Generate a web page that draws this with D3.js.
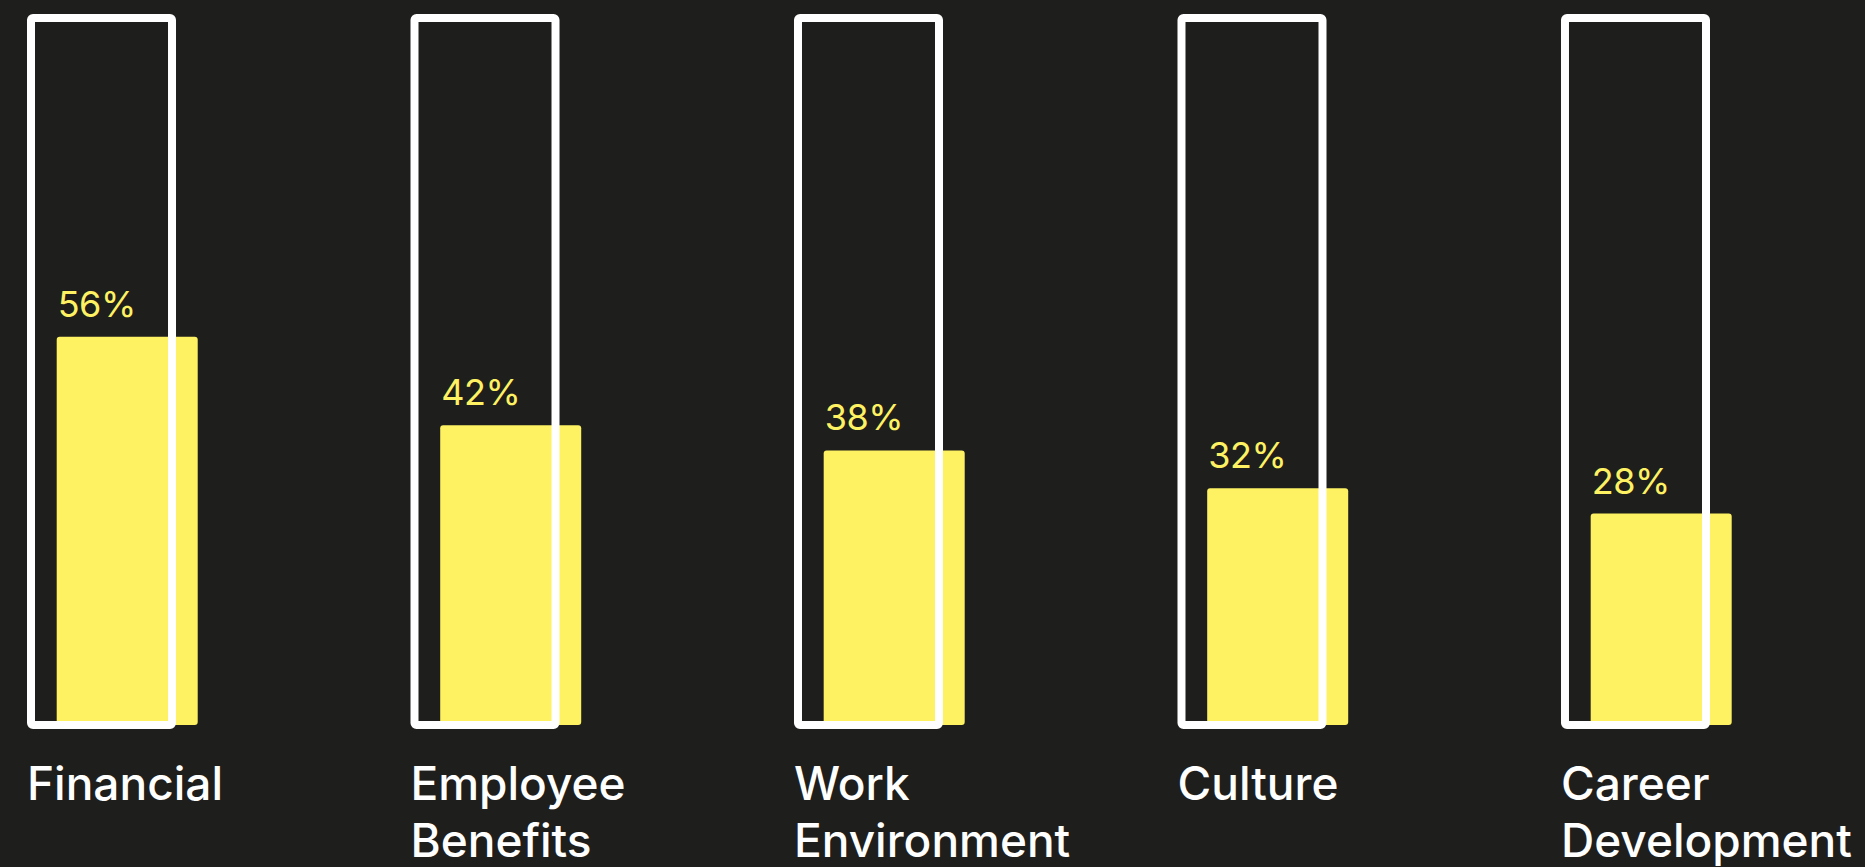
<!DOCTYPE html>
<html>
<head>
<meta charset="utf-8">
<script src="https://cdn.jsdelivr.net/npm/d3@7"></script>
<style>
  html, body { margin: 0; padding: 0; background: #1e1e1c; }
  svg { display: block; }
</style>
</head>
<body>
<svg id="chart" width="1865" height="867"></svg>
<script>
// Share of respondents naming each factor
const categories = ["Financial", "Employee Benefits", "Work Environment", "Culture", "Career Development"];
const labelLines = [["Financial"], ["Employee", "Benefits"], ["Work", "Environment"], ["Culture"], ["Career", "Development"]];
const values = [56, 42, 38, 32, 28];

const W = 1865, H = 867;
const baseline = 725;      // bottom edge of the bars
const frameTop = 18;       // top edge of the outline frames
const barShift = 25.7;     // filled bar is offset to the right of its frame

const svg = d3.select("#chart");
svg.append("rect").attr("width", W).attr("height", H).attr("fill", "#1e1e1c");

const x = d3.scaleBand()
  .domain(categories)
  .range([31, 1706])
  .paddingInner(0.6323)
  .paddingOuter(0);

// value scale keeps a small stub below zero so short bars stay visible
const y = d3.scaleLinear()
  .domain([-5.5, 100])
  .range([baseline, 59]);

const data = categories.map((c, i) => ({ cat: c, value: values[i], lines: labelLines[i] }));

const g = svg.append("g");

// filled bars
g.selectAll("rect.bar")
  .data(data)
  .join("rect")
  .attr("class", "bar")
  .attr("x", d => x(d.cat) + barShift)
  .attr("y", d => y(d.value))
  .attr("width", x.bandwidth())
  .attr("height", d => baseline - y(d.value))
  .attr("rx", 3)
  .attr("fill", "#fef263");

// outline frames drawn on top of the bars
g.selectAll("rect.frame")
  .data(data)
  .join("rect")
  .attr("class", "frame")
  .attr("x", d => x(d.cat))
  .attr("y", frameTop)
  .attr("width", x.bandwidth())
  .attr("height", baseline - frameTop)
  .attr("rx", 2)
  .attr("fill", "none")
  .attr("stroke", "#ffffff")
  .attr("stroke-width", 8);

// value labels above the bars
g.selectAll("text.value")
  .data(data)
  .join("text")
  .attr("class", "value")
  .attr("x", d => x(d.cat) + barShift + 1)
  .attr("y", d => y(d.value) - 20)
  .attr("fill", "#fef263")
  .attr("font-family", "Inter, 'Noto Sans', sans-serif")
  .attr("font-size", 36)
  .attr("letter-spacing", -0.5)
  .text(d => d.value + "%");

// category labels below the frames
const cat = g.selectAll("text.cat")
  .data(data)
  .join("text")
  .attr("class", "cat")
  .attr("x", d => x(d.cat) - 4)
  .attr("y", 800)
  .attr("fill", "#ffffff")
  .attr("font-family", "Inter, 'Noto Sans', sans-serif")
  .attr("font-weight", 500)
  .attr("font-size", 46);

cat.selectAll("tspan")
  .data(d => d.lines.map(t => ({ t, x: x(d.cat) - 4 })))
  .join("tspan")
  .attr("x", d => d.x)
  .attr("dy", (d, i) => i === 0 ? 0 : 56.7)
  .text(d => d.t);
</script>
</body>
</html>
